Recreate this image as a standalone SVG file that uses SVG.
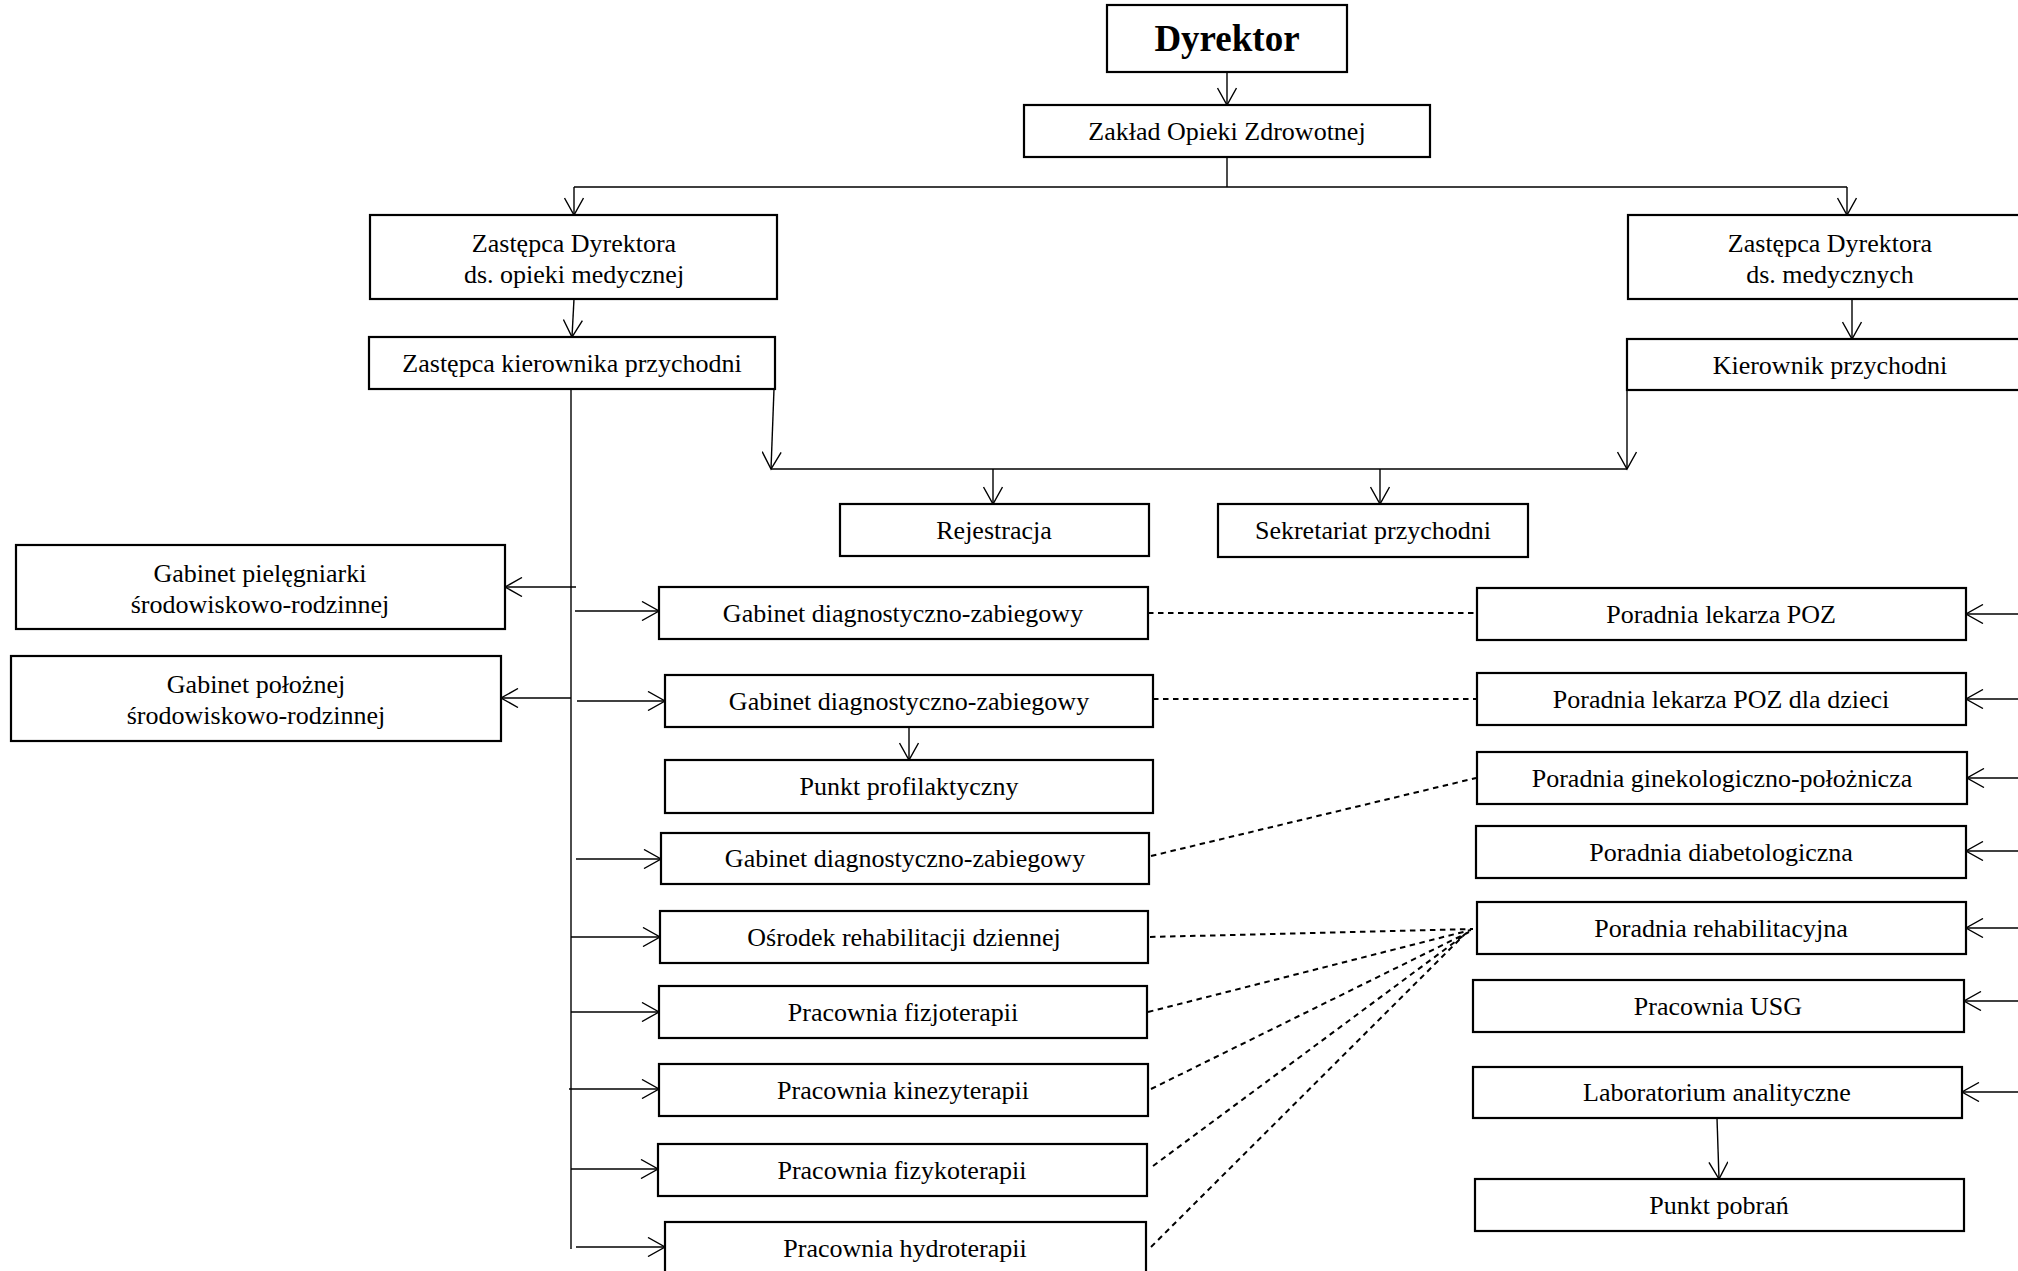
<svg xmlns="http://www.w3.org/2000/svg" width="2018" height="1271" viewBox="0 0 2018 1271">
<style>
.b{fill:#fff;stroke:#000;stroke-width:2.2}
.t{font-family:"Liberation Serif","Times New Roman",serif;font-size:26px;fill:#000;text-anchor:middle}
.h{font-weight:bold;font-size:37px}
.c{fill:none;stroke:#000;stroke-width:1.4}
.a{marker-end:url(#arr)}
.d{fill:none;stroke:#000;stroke-width:2;stroke-dasharray:5.5 4.5}
</style>
<defs>
<marker id="arr" viewBox="0 0 20 20" refX="18" refY="10" markerWidth="20" markerHeight="20" markerUnits="userSpaceOnUse" orient="auto">
<path d="M1,0.5 L18,10 L1,19.5" fill="none" stroke="#000" stroke-width="1.4"/>
</marker>
</defs>
<g id="connectors">
<path class="c" d="M1227,157 V187 M574,187 H1847"/>
<path class="c a" d="M1227,72 V105"/>
<path class="c a" d="M574,187 V215"/>
<path class="c a" d="M1847,187 V215"/>
<path class="c a" d="M574,299 L572,337"/>
<path class="c a" d="M1852,299 V339"/>
<path class="c a" d="M774,389 L771,469"/>
<path class="c a" d="M1627,390 V469"/>
<path class="c" d="M771,469 H1627"/>
<path class="c a" d="M993,469 V504"/>
<path class="c a" d="M1380,469 V504"/>
<path class="c" d="M571,389 V1249"/>
<path class="c a" d="M576,587 H505"/>
<path class="c a" d="M575,611 H659"/>
<path class="c a" d="M571,698 H501"/>
<path class="c a" d="M577,701 H665"/>
<path class="c a" d="M909,727 V760"/>
<path class="c a" d="M576,859 H661"/>
<path class="c a" d="M571,937 H660"/>
<path class="c a" d="M571,1012 H659"/>
<path class="c a" d="M569,1089 H659"/>
<path class="c a" d="M571,1169 H658"/>
<path class="c a" d="M576,1247 H665"/>
<path class="c a" d="M2018,614 H1966"/>
<path class="c a" d="M2018,699 H1966"/>
<path class="c a" d="M2018,778 H1967"/>
<path class="c a" d="M2018,851 H1966"/>
<path class="c a" d="M2018,928 H1966"/>
<path class="c a" d="M2018,1001 H1964"/>
<path class="c a" d="M2018,1092 H1962"/>
<path class="c a" d="M1717,1118 L1719,1179"/>
<path class="d" d="M1148,613 H1477"/>
<path class="d" d="M1153,699 H1477"/>
<path class="d" d="M1151,856 L1476,778"/>
<path class="d" d="M1150,937 L1473,929"/>
<path class="d" d="M1148,1012 L1471,930"/>
<path class="d" d="M1151,1089 L1469,932"/>
<path class="d" d="M1153,1166 L1467,933"/>
<path class="d" d="M1151,1247 L1465,934"/>
</g>
<g id="n-dyrektor"><rect class="b" x="1107" y="5" width="240" height="67"/><text class="t h" x="1227" y="51">Dyrektor</text></g>
<g id="n-zaklad"><rect class="b" x="1024" y="105" width="406" height="52"/><text class="t" x="1227" y="140">Zakład Opieki Zdrowotnej</text></g>
<g id="n-zdl"><rect class="b" x="370" y="215" width="407" height="84"/><text class="t" x="574" y="252">Zastępca Dyrektora</text><text class="t" x="574" y="283">ds. opieki medycznej</text></g>
<g id="n-zdr"><rect class="b" x="1628" y="215" width="420" height="84"/><text class="t" x="1830" y="252">Zastępca Dyrektora</text><text class="t" x="1830" y="283">ds. medycznych</text></g>
<g id="n-zk"><rect class="b" x="369" y="337" width="406" height="52"/><text class="t" x="572" y="372">Zastępca kierownika przychodni</text></g>
<g id="n-kp"><rect class="b" x="1627" y="339" width="420" height="51"/><text class="t" x="1830" y="374">Kierownik przychodni</text></g>
<g id="n-rej"><rect class="b" x="840" y="504" width="309" height="52"/><text class="t" x="994" y="539">Rejestracja</text></g>
<g id="n-sek"><rect class="b" x="1218" y="504" width="310" height="53"/><text class="t" x="1373" y="539">Sekretariat przychodni</text></g>
<g id="n-piel"><rect class="b" x="16" y="545" width="489" height="84"/><text class="t" x="260" y="582">Gabinet pielęgniarki</text><text class="t" x="260" y="613">środowiskowo-rodzinnej</text></g>
<g id="n-pol"><rect class="b" x="11" y="656" width="490" height="85"/><text class="t" x="256" y="693">Gabinet położnej</text><text class="t" x="256" y="724">środowiskowo-rodzinnej</text></g>
<g id="n-diag1"><rect class="b" x="659" y="587" width="489" height="52"/><text class="t" x="903" y="622">Gabinet diagnostyczno-zabiegowy</text></g>
<g id="n-diag2"><rect class="b" x="665" y="675" width="488" height="52"/><text class="t" x="909" y="710">Gabinet diagnostyczno-zabiegowy</text></g>
<g id="n-prof"><rect class="b" x="665" y="760" width="488" height="53"/><text class="t" x="909" y="795">Punkt profilaktyczny</text></g>
<g id="n-diag3"><rect class="b" x="661" y="833" width="488" height="51"/><text class="t" x="905" y="867">Gabinet diagnostyczno-zabiegowy</text></g>
<g id="n-osr"><rect class="b" x="660" y="911" width="488" height="52"/><text class="t" x="904" y="946">Ośrodek rehabilitacji dziennej</text></g>
<g id="n-fizjo"><rect class="b" x="659" y="986" width="488" height="52"/><text class="t" x="903" y="1021">Pracownia fizjoterapii</text></g>
<g id="n-kin"><rect class="b" x="659" y="1064" width="489" height="52"/><text class="t" x="903" y="1099">Pracownia kinezyterapii</text></g>
<g id="n-fizyko"><rect class="b" x="658" y="1144" width="489" height="52"/><text class="t" x="902" y="1179">Pracownia fizykoterapii</text></g>
<g id="n-hydro"><rect class="b" x="665" y="1222" width="481" height="60"/><text class="t" x="905" y="1257">Pracownia hydroterapii</text></g>
<g id="n-poz"><rect class="b" x="1477" y="588" width="489" height="52"/><text class="t" x="1721" y="623">Poradnia lekarza POZ</text></g>
<g id="n-pozd"><rect class="b" x="1477" y="673" width="489" height="52"/><text class="t" x="1721" y="708">Poradnia lekarza POZ dla dzieci</text></g>
<g id="n-gin"><rect class="b" x="1477" y="752" width="490" height="52"/><text class="t" x="1722" y="787">Poradnia ginekologiczno-położnicza</text></g>
<g id="n-diab"><rect class="b" x="1476" y="826" width="490" height="52"/><text class="t" x="1721" y="861">Poradnia diabetologiczna</text></g>
<g id="n-rehab"><rect class="b" x="1477" y="902" width="489" height="52"/><text class="t" x="1721" y="937">Poradnia rehabilitacyjna</text></g>
<g id="n-usg"><rect class="b" x="1473" y="980" width="491" height="52"/><text class="t" x="1718" y="1015">Pracownia USG</text></g>
<g id="n-lab"><rect class="b" x="1473" y="1067" width="489" height="51"/><text class="t" x="1717" y="1101">Laboratorium analityczne</text></g>
<g id="n-pob"><rect class="b" x="1475" y="1179" width="489" height="52"/><text class="t" x="1719" y="1214">Punkt pobrań</text></g>
</svg>
